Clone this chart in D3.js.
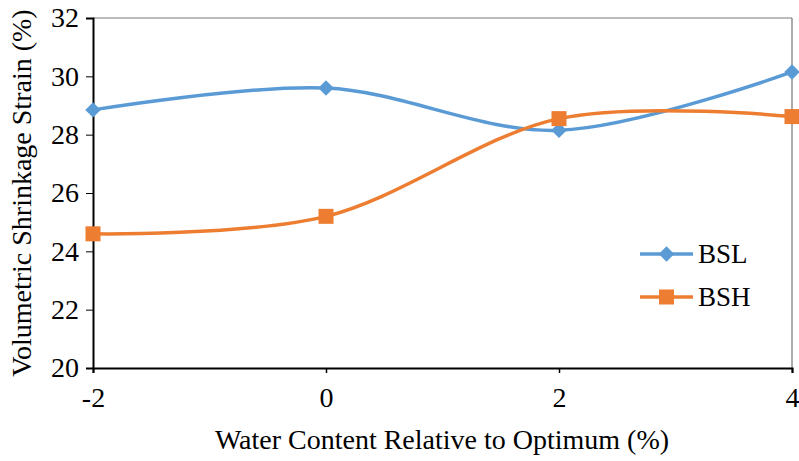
<!DOCTYPE html>
<html><head><meta charset="utf-8">
<script src="https://cdn.jsdelivr.net/npm/d3@7"></script>
<style>body{margin:0;background:#fff}svg{display:block}text{font-family:'Times New Roman','Liberation Serif','DejaVu Serif',serif;fill:#000}</style>
</head><body><svg id="c" width="799" height="461"></svg>
<script>
const xValues = [-2, 0, 2, 4];
const bslValues = [28.85, 29.6, 28.15, 30.15];
const bshValues = [24.6, 25.2, 28.55, 28.62];
const seriesNames = ["BSL", "BSH"];
const xTicks = [-2, 0, 2, 4];
const yTicks = [20, 22, 24, 26, 28, 30, 32];

const FONT = "'Times New Roman','Liberation Serif','DejaVu Serif',serif";
const svg = d3.select("#c");
const m = {l: 93, r: 7, t: 18, b: 93};
const W = 799, H = 461;
const x = d3.scaleLinear().domain([-2, 4]).range([m.l, W - m.r]);
const y = d3.scaleLinear().domain([20, 32]).range([H - m.b, m.t]);
const fmt = d => String(d);

svg.append("line").attr("x1", x(-2)).attr("x2", x(4)).attr("y1", y(32)).attr("y2", y(32)).attr("stroke", "#a6a6a6").attr("stroke-width", 1.5);
svg.append("line").attr("x1", x(4)).attr("x2", x(4)).attr("y1", y(32)).attr("y2", y(20)).attr("stroke", "#595959").attr("stroke-width", 1);

const xa = svg.append("g").attr("transform", `translate(0,${y(20)})`)
  .call(d3.axisBottom(x).tickValues(xTicks).tickSize(5).tickPadding(14).tickFormat(fmt));
const ya = svg.append("g").attr("transform", `translate(${x(-2)},0)`)
  .call(d3.axisLeft(y).tickValues(yTicks).tickSize(7).tickPadding(7).tickFormat(fmt));
[xa, ya].forEach(a => {
  a.attr("font-family", FONT).attr("font-size", 28);
  a.select(".domain").attr("stroke", "#000").attr("stroke-width", 2);
  a.selectAll(".tick line").attr("stroke", "#000").attr("stroke-width", 1);
  a.selectAll("text").attr("font-family", FONT).attr("font-size", 28);
});
xa.selectAll(".tick text").attr("dy", "0.72em");
xa.selectAll(".tick line").attr("stroke-width", 1.5);

const line = d3.line().x((d, i) => x(xValues[i])).y(d => y(d)).curve(d3.curveCardinal.tension(0));
const colors = ["#5b9bd5", "#ed7d31"];
const data = [bslValues, bshValues];

data.forEach((vals, k) => {
  svg.append("path").datum(vals).attr("d", line).attr("fill", "none")
    .attr("stroke", colors[k]).attr("stroke-width", 3.5);
});
function marker(g, k, cx, cy) {
  if (k === 0) {
    g.append("path").attr("d", d3.symbol().type(d3.symbolSquare).size(120)())
      .attr("transform", `translate(${cx},${cy}) rotate(45)`).attr("fill", colors[0]);
  } else {
    g.append("rect").attr("x", cx - 7.5).attr("y", cy - 7.5).attr("width", 15).attr("height", 15).attr("fill", colors[1]);
  }
}
data.forEach((vals, k) => {
  vals.forEach((v, i) => marker(svg, k, x(xValues[i]), y(v)));
});

const lg = [254, 297];
seriesNames.forEach((n, k) => {
  svg.append("line").attr("x1", 640).attr("x2", 693).attr("y1", lg[k]).attr("y2", lg[k])
    .attr("stroke", colors[k]).attr("stroke-width", 3.5);
  marker(svg, k, 666.5, lg[k]);
  svg.append("text").attr("x", 698).attr("y", lg[k] + 9).attr("font-family", FONT).attr("font-size", 27).text(n);
});

svg.append("text").attr("x", 442).attr("y", 449).attr("text-anchor", "middle").attr("font-family", FONT)
  .attr("font-size", 28).text("Water Content Relative to Optimum (%)");
svg.append("text").attr("transform", `translate(31,${(y(20) + y(32)) / 2}) rotate(-90)`).attr("text-anchor", "middle").attr("font-family", FONT)
  .attr("font-size", 28).text("Volumetric Shrinkage Strain (%)");
</script></body></html>
